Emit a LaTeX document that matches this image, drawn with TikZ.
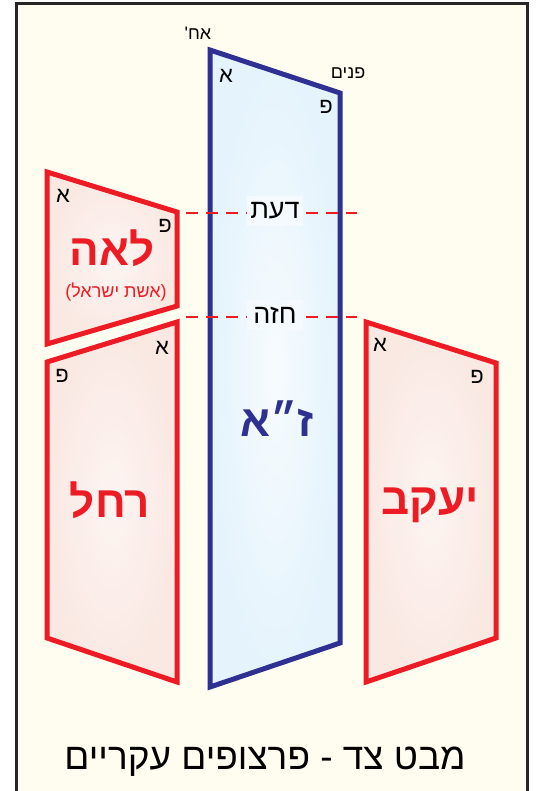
\documentclass[tikz,border=0pt]{standalone}
\usepackage{fontspec}
\usepackage{tikz}
\usetikzlibrary{positioning, calc}
\TeXXeTstate=1
\newfontfamily\hebfont[Script=Hebrew]{Liberation Sans}
\newcommand{\heb}[1]{\beginR#1\endR}
\definecolor{partzufred}{RGB}{237,28,36}
\definecolor{partzufblue}{RGB}{46,49,146}
\definecolor{cream}{RGB}{255,253,240}
\definecolor{pinkfill}{RGB}{250,232,226}
\definecolor{bluefill}{RGB}{228,243,252}
\tikzset{
    partzuf_red/.style={draw=partzufred, line width=5pt, line join=miter, inner color=white!55!pinkfill, outer color=pinkfill},
    partzuf_blue/.style={draw=partzufblue, line width=5pt, line join=miter, inner color=white!70!bluefill, outer color=bluefill},
    letter_small/.style={font=\hebfont\fontsize{22}{22}\selectfont, text=black, inner sep=0pt},
    name_big/.style={font=\hebfont\bfseries\fontsize{44}{44}\selectfont, text=partzufred, inner sep=0pt},
    level_line/.style={draw=partzufred, line width=2pt, dash pattern=on 12pt off 8pt},
    level_label/.style={fill=white!60!bluefill, font=\hebfont\fontsize{27}{27}\selectfont, minimum width=56pt, minimum height=30pt, inner sep=0pt}
}

\begin{document}
\begin{tikzpicture}[x=1pt, y=-1pt]
\useasboundingbox (0,0) rectangle (536,791);

% Frame
\fill[white] (0,0) rectangle (536,791);
\draw[fill=cream, line width=3pt, draw=black!85] (16,4) rectangle (527,800);

% Z"A
\coordinate (za_tl) at (210,50);
\coordinate (za_tr) at (340,93);
\coordinate (za_br) at (340,643);
\coordinate (za_bl) at (210,687);
\path[partzuf_blue] (za_tl) -- (za_tr) -- (za_br) -- (za_bl) -- cycle;

% Leah
\coordinate (leah_tl) at (47,172);
\coordinate (leah_tr) at (177,212);
\coordinate (leah_br) at (177,306);
\coordinate (leah_bl) at (47,344);
\path[partzuf_red] (leah_tl) -- (leah_tr) -- (leah_br) -- (leah_bl) -- cycle;

% Rachel
\coordinate (rachel_tr) at (177,322);
\coordinate (rachel_tl) at (47,362);
\coordinate (rachel_bl) at (47,638);
\coordinate (rachel_br) at (177,682);
\path[partzuf_red] (rachel_tl) -- (rachel_tr) -- (rachel_br) -- (rachel_bl) -- cycle;

% Yaakov
\coordinate (yaakov_tl) at (366,322);
\coordinate (yaakov_tr) at (496,363);
\coordinate (yaakov_br) at (496,638);
\coordinate (yaakov_bl) at (366,682);
\path[partzuf_red] (yaakov_tl) -- (yaakov_tr) -- (yaakov_br) -- (yaakov_bl) -- cycle;

% Levels
\coordinate (daat_l) at (186,213);
\coordinate (daat_r) at (357,213);
\coordinate (chazeh_l) at (186,317);
\coordinate (chazeh_r) at (357,317);
\draw[level_line] (daat_l) -- (daat_r);
\draw[level_line] (chazeh_l) -- (chazeh_r);
\node (daat) [level_label] at (275,211) {\heb{דעת}};
\node (chazeh) [level_label] at (275,315) {\heb{חזה}};

% Achor / Panim
\node (achor) [letter_small, font=\hebfont\fontsize{18}{18}\selectfont] at (198,33) {\heb{אח'}};
\node (panim) [letter_small, font=\hebfont\fontsize{18}{18}\selectfont] at (348,73) {\heb{פנים}};
\node (za_a) [letter_small] at (226,76) {\heb{א}};
\node (za_p) [letter_small] at (326,107) {\heb{פ}};
\node (leah_a) [letter_small] at (63,196) {\heb{א}};
\node (leah_p) [letter_small] at (165,226) {\heb{פ}};
\node (rachel_a) [letter_small] at (162,348) {\heb{א}};
\node (rachel_p) [letter_small] at (62,376) {\heb{פ}};
\node (yaakov_a) [letter_small] at (380,345) {\heb{א}};
\node (yaakov_p) [letter_small] at (477,377) {\heb{פ}};

% Names
\node (leah) [name_big] at (112,248) {\heb{לאה}};
\node (leah_sub) [font=\hebfont\fontsize{18}{18}\selectfont, text=partzufred, inner sep=0pt] at (116,292) {\heb{(אשת ישראל)}};
\node (rachel) [name_big] at (110,500) {\heb{רחל}};
\node (yaakov) [name_big] at (430,505) {\heb{יעקב}};
\node (za) [name_big, text=partzufblue] at (277,419) {\heb{ז״א}};

% Title
\node (title) [font=\hebfont\fontsize{37}{37}\selectfont, inner sep=0pt] at (265,762) {\heb{מבט צד - פרצופים עקריים}};
\end{tikzpicture}
\end{document}
